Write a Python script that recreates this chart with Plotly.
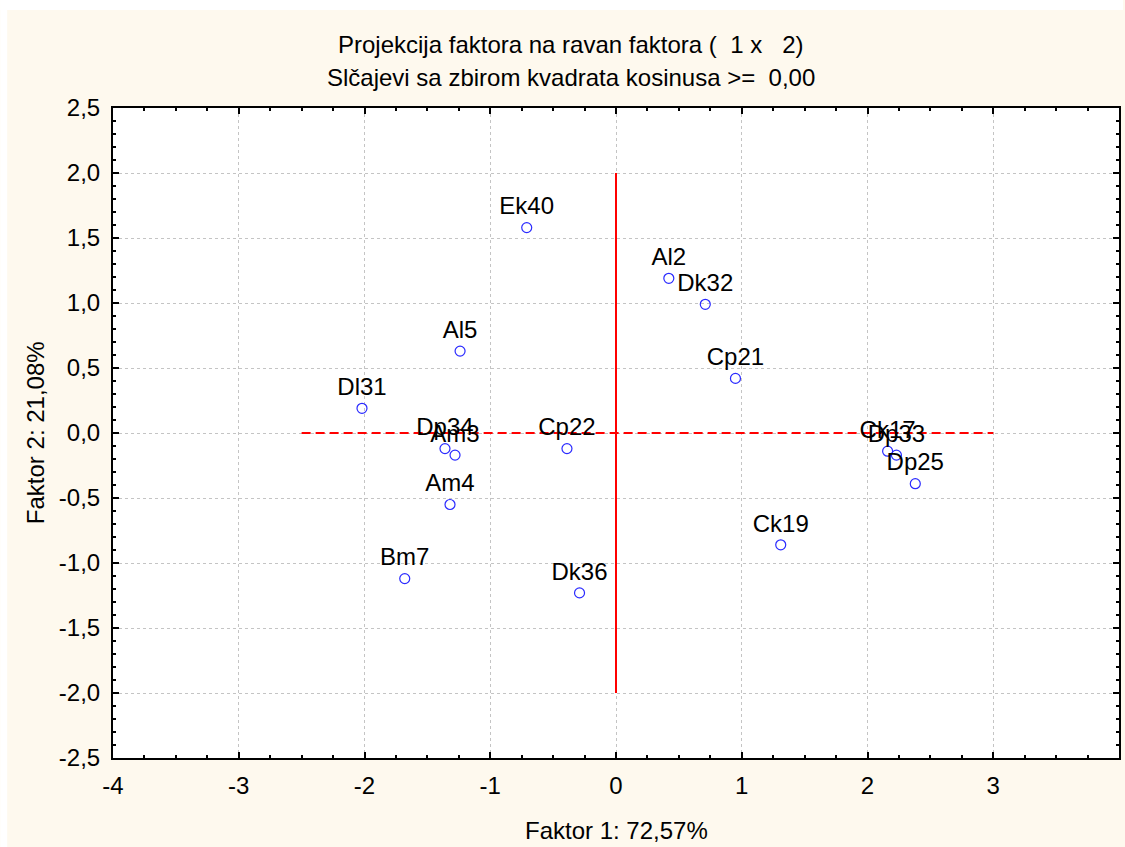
import plotly.graph_objects as go

# ---- data ----
labels = ["Ek40", "Al2", "Dk32", "Al5", "Cp21", "Dl31", "Dp34", "Am3", "Cp22",
          "Am4", "Ck17", "Dp33", "Dp25", "Ck19", "Bm7", "Dk36"]
factor1 = [-0.71, 0.42, 0.71, -1.24, 0.95, -2.02, -1.36, -1.28, -0.39,
           -1.32, 2.16, 2.23, 2.38, 1.31, -1.68, -0.29]
factor2 = [1.58, 1.19, 0.99, 0.63, 0.42, 0.19, -0.12, -0.17, -0.12,
           -0.55, -0.14, -0.17, -0.39, -0.86, -1.12, -1.23]

vline_x = [0, 0]
vline_y = [-2.0, 2.0]
hline_x = [-2.5, 3.0]
hline_y = [0, 0]

x_ticks = [-4, -3, -2, -1, 0, 1, 2, 3, 4]
x_ticktext = ["-4", "-3", "-2", "-1", "0", "1", "2", "3", "4"]
y_ticks = [-2.5, -2.0, -1.5, -1.0, -0.5, 0.0, 0.5, 1.0, 1.5, 2.0, 2.5]
y_ticktext = ["-2,5", "-2,0", "-1,5", "-1,0", "-0,5", "0,0", "0,5", "1,0", "1,5", "2,0", "2,5"]

title1 = "Projekcija faktora na ravan faktora (  1 x   2)"
title2 = "Slčajevi sa zbirom kvadrata kosinusa >=  0,00"
xtitle = "Faktor 1: 72,57%"
ytitle = "Faktor 2: 21,08%"

FONT = "Liberation Sans, Arial, sans-serif"
BEIGE = "#FEF9EE"
FS = 24

fig = go.Figure()
fig.add_trace(go.Scatter(x=vline_x, y=vline_y, mode="lines",
                         line=dict(color="#FF0000", width=2), hoverinfo="skip"))
fig.add_trace(go.Scatter(x=hline_x, y=hline_y, mode="lines",
                         line=dict(color="#FF0000", width=2, dash="9px,5px"), hoverinfo="skip"))
fig.add_trace(go.Scatter(
    x=factor1, y=factor2, mode="markers+text", text=labels,
    textposition="top center",
    textfont=dict(family=FONT, size=FS, color="black"),
    marker=dict(symbol="circle-open", size=10, color="#2A2AFF", line=dict(width=1.2)),
))

W, H = 1125, 847
L, R, T, B = 113, 4, 108, 89
pw, ph = W - L - R, H - T - B

def px_to_paper_x(px):
    return (px - L) / pw

def py_to_paper_y(py):
    return (H - B - py) / ph

axis_common = dict(
    showline=True, linecolor="black", linewidth=2, mirror="allticks",
    ticks="inside", ticklen=6, tickwidth=1.5, tickcolor="black",
    showgrid=True, gridcolor="#C4C4C4", gridwidth=1, griddash="dot",
    zeroline=False,
    tickfont=dict(family=FONT, size=FS, color="black"),
)

fig.update_layout(
    width=W, height=H,
    margin=dict(l=L, r=R, t=T, b=B),
    paper_bgcolor=BEIGE, plot_bgcolor="white",
    showlegend=False,
    xaxis=dict(range=[-4, 4], tickvals=x_ticks, ticktext=x_ticktext,
               ticklabelstandoff=5,
               minor=dict(dtick=0.25, ticks="inside", ticklen=3, tickcolor="black",
                          tickwidth=1.5, showgrid=False),
               **axis_common),
    yaxis=dict(range=[-2.5, 2.5], tickvals=y_ticks, ticktext=y_ticktext,
               ticklabelstandoff=6,
               minor=dict(dtick=0.1, tick0=0, ticks="inside", ticklen=3, tickcolor="black",
                          tickwidth=1.5, showgrid=False),
               **axis_common),
    shapes=[
        dict(type="rect", xref="paper", yref="paper", layer="below",
             x0=px_to_paper_x(0), x1=px_to_paper_x(W), y0=py_to_paper_y(0), y1=py_to_paper_y(10),
             fillcolor="white", line=dict(width=0)),
        dict(type="rect", xref="paper", yref="paper", layer="below",
             x0=px_to_paper_x(0), x1=px_to_paper_x(7), y0=py_to_paper_y(0), y1=py_to_paper_y(H),
             fillcolor="white", line=dict(width=0)),
    ],
    annotations=[
        dict(text=title1, xref="paper", yref="paper", x=px_to_paper_x(572), y=py_to_paper_y(44),
             xanchor="center", yanchor="middle", showarrow=False,
             font=dict(family=FONT, size=FS, color="black")),
        dict(text=title2, xref="paper", yref="paper", x=px_to_paper_x(572), y=py_to_paper_y(78),
             xanchor="center", yanchor="middle", showarrow=False,
             font=dict(family=FONT, size=FS, color="black")),
        dict(text=xtitle, xref="paper", yref="paper", x=px_to_paper_x(618), y=py_to_paper_y(830),
             xanchor="center", yanchor="middle", showarrow=False,
             font=dict(family=FONT, size=FS, color="black")),
        dict(text=ytitle, xref="paper", yref="paper", x=px_to_paper_x(35), y=py_to_paper_y(433),
             xanchor="center", yanchor="middle", showarrow=False, textangle=-90,
             font=dict(family=FONT, size=FS, color="black")),
    ],
)

fig.write_html(
    "out.html",
    config={"displayModeBar": False},
    post_script="document.body.style.margin='0';"
                "document.body.style.overflow='hidden';"
                "document.documentElement.style.overflow='hidden';",
)
